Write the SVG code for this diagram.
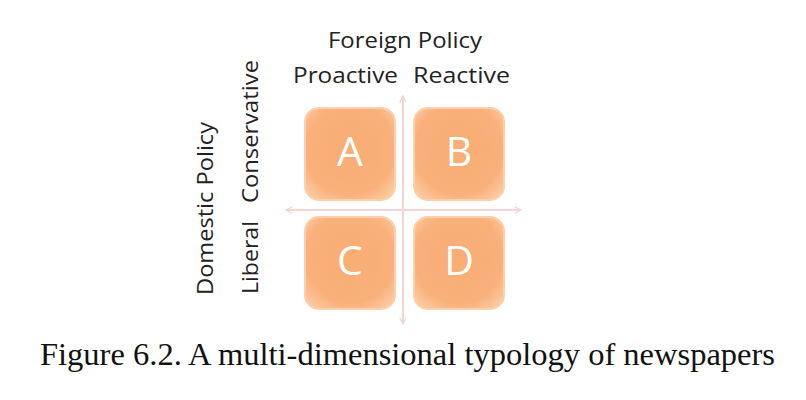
<svg xmlns="http://www.w3.org/2000/svg" width="806" height="400" viewBox="0 0 806 400">
<style>
.lbl{font-family:"Open Sans","Liberation Sans",sans-serif;font-size:22px;fill:#222}
.box{fill:url(#g);stroke:#fcd0ab;stroke-width:2}
.let{font-family:"Open Sans","Liberation Sans",sans-serif;font-size:41px;fill:#fff;text-anchor:middle}
.ax{stroke:#f3d3d3;stroke-width:2;fill:none}
.cap{font-family:"Liberation Serif",serif;font-size:32px;fill:#111}
</style>
<defs>
<radialGradient id="g" cx="50%" cy="45%" r="65%">
<stop offset="0" stop-color="#f8ad73"/>
<stop offset="0.75" stop-color="#f9b07a"/>
<stop offset="1" stop-color="#fcc79d"/>
</radialGradient>
<marker id="ah" viewBox="0 0 10 10" refX="9" refY="5" markerWidth="8" markerHeight="8" orient="auto-start-reverse" markerUnits="userSpaceOnUse">
<path d="M1,1 L9,5 L1,9" fill="none" stroke="#f3d3d3" stroke-width="1.5"/>
</marker>
</defs>
<g id="connectors">
<line class="ax" x1="403" y1="96" x2="403" y2="324" marker-start="url(#ah)" marker-end="url(#ah)"/>
<line class="ax" x1="286" y1="210" x2="521" y2="210" marker-start="url(#ah)" marker-end="url(#ah)"/>
</g>
<g id="A"><rect class="box" x="305" y="108" width="90" height="92" rx="14"/><text class="let" x="350" y="166">A</text></g>
<g id="B"><rect class="box" x="414" y="108" width="90" height="92" rx="14"/><text class="let" x="459" y="166">B</text></g>
<g id="C"><rect class="box" x="305" y="217" width="90" height="92" rx="14"/><text class="let" x="350" y="275">C</text></g>
<g id="D"><rect class="box" x="414" y="217" width="90" height="92" rx="14"/><text class="let" x="459" y="275">D</text></g>
<g id="labels">
<text class="lbl" x="328" y="48" textLength="154" lengthAdjust="spacingAndGlyphs">Foreign Policy</text>
<text class="lbl" x="293" y="83" textLength="105" lengthAdjust="spacingAndGlyphs">Proactive</text>
<text class="lbl" x="413" y="83" textLength="97" lengthAdjust="spacingAndGlyphs">Reactive</text>
<text class="lbl" transform="translate(213,295) rotate(-90)" textLength="173" lengthAdjust="spacingAndGlyphs">Domestic Policy</text>
<text class="lbl" transform="translate(258,294) rotate(-90)" textLength="73" lengthAdjust="spacingAndGlyphs">Liberal</text>
<text class="lbl" transform="translate(258,203) rotate(-90)" textLength="143" lengthAdjust="spacingAndGlyphs">Conservative</text>
</g>
<text class="cap" x="40" y="365" textLength="735" lengthAdjust="spacingAndGlyphs">Figure 6.2. A multi-dimensional typology of newspapers</text>
</svg>
